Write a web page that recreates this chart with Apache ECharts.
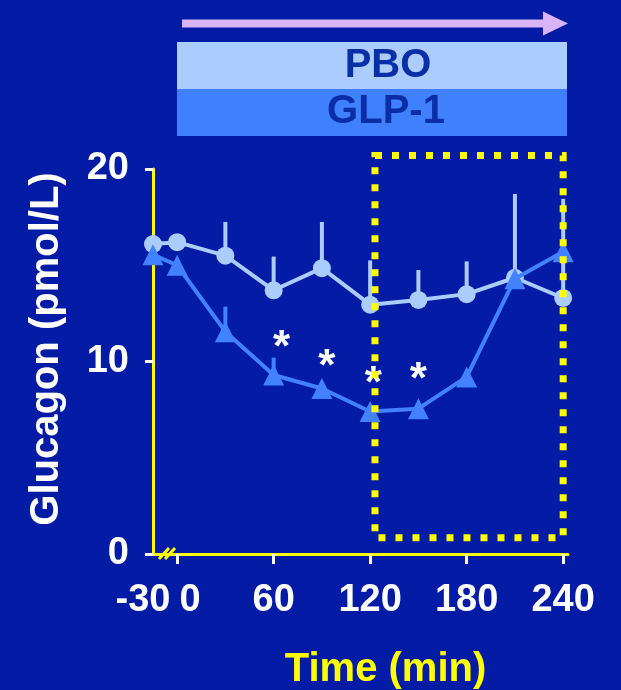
<!DOCTYPE html>
<html><head><meta charset="utf-8">
<script src="https://cdn.jsdelivr.net/npm/echarts@6/dist/echarts.min.js"></script>
<style>html,body{margin:0;padding:0;background:#031ba5;}#c{width:621px;height:690px;}</style>
</head><body><div id="c"></div>
<script>
// ---- data ----
const times = [-30, 0, 30, 60, 90, 120, 150, 180, 210, 240];
const pbo = [16.1, 16.2, 15.5, 13.7, 14.85, 12.95, 13.2, 13.5, 14.35, 13.3];
const pboUpper = [null, null, 17.25, 15.45, 17.25, 15.25, 14.75, 15.2, 18.7, 18.45];
const glp1 = [15.55, 15.0, 11.55, 9.3, 8.6, 7.4, 7.55, 9.2, 14.3, 15.7];
const glp1Upper = [null, null, 12.85, 10.2, null, null, null, null, null, null];
const starTimes = [65, 93, 122, 150];
const starY = [11.2, 10.2, 9.3, 9.5];
const xTickTimes = [-30, 0, 60, 120, 180, 240];
const xTickLabels = ['-30', '0', '60', '120', '180', '240'];
const yTicks = [0, 10, 20];
const seriesNames = ['PBO', 'GLP-1'];

// broken axis: the pre-infusion segment (-30..0) is drawn compressed
const pos = t => (t < 0 ? t / 2 : t);

const FONT = 'Liberation Sans, Arial, sans-serif';
const BG = '#031ba5';
const YELLOW = '#ffff00';
const C_PBO = '#aaccff';
const C_GLP = '#4282ff';

const chart = echarts.init(document.getElementById('c'));

function errSeries(vals, uppers, color) {
  const data = [];
  times.forEach((t, i) => { if (uppers[i] != null) data.push([pos(t), vals[i], uppers[i]]); });
  return {
    type: 'custom', data, z: 1, silent: true,
    encode: { x: 0, y: [1, 2] },
    renderItem: (params, api) => {
      const p0 = api.coord([api.value(0), api.value(1)]);
      const p1 = api.coord([api.value(0), api.value(2)]);
      return { type: 'line', shape: { x1: p0[0], y1: p0[1], x2: p1[0], y2: p1[1] },
        style: { stroke: color, lineWidth: 4 } };
    }
  };
}

const labelMap = {};
xTickTimes.forEach((t, i) => { labelMap[pos(t)] = xTickLabels[i]; });

chart.setOption({
  backgroundColor: BG,
  animation: false,
  textStyle: { fontFamily: FONT },
  grid: { left: 153, top: 169, width: 415, height: 385, containLabel: false, outerBoundsMode: 'none' },
  xAxis: {
    type: 'value', min: pos(-30), max: 243,
    name: 'Time (min)', nameLocation: 'middle', nameGap: 96,
    nameTextStyle: { color: YELLOW, fontSize: 40, fontWeight: 'bold', fontFamily: FONT, padding: [0, 0, 0, 50] },
    axisLine: { show: true, onZero: false, lineStyle: { color: YELLOW, width: 3 } },
    axisTick: { show: true, customValues: xTickTimes.filter(t => t >= 0).map(pos), length: 10,
      lineStyle: { color: '#ffffff', width: 3 } },
    axisLabel: {
      customValues: xTickTimes.map(pos), margin: 28, color: '#fff', fontSize: 38, fontWeight: 'bold', fontFamily: FONT,
      formatter: v => {
        const s = labelMap[v];
        if (s === '-30') return '{a|' + s + '}';
        if (s === '0') return '{b|' + s + '}';
        return s;
      },
      rich: {
        a: { color: '#fff', fontSize: 38, fontWeight: 'bold', fontFamily: FONT, padding: [0, 20, 0, 0] },
        b: { color: '#fff', fontSize: 38, fontWeight: 'bold', fontFamily: FONT, padding: [0, 0, 0, 26] }
      }
    },
    splitLine: { show: false }
  },
  yAxis: {
    type: 'value', min: yTicks[0], max: yTicks[yTicks.length - 1], interval: 10,
    name: 'Glucagon (pmol/L)', nameLocation: 'middle', nameGap: 86,
    nameTextStyle: { color: '#fff', fontSize: 40, fontWeight: 'bold', fontFamily: FONT, padding: [0, 0, 0, 25] },
    axisLine: { show: true, onZero: false, lineStyle: { color: YELLOW, width: 3 } },
    axisTick: { show: true, length: 8, lineStyle: { color: '#fff', width: 3 } },
    axisLabel: { margin: 24, color: '#fff', fontSize: 38, fontWeight: 'bold', fontFamily: FONT },
    splitLine: { show: false }
  },
  series: [
    errSeries(pbo, pboUpper, C_PBO),
    errSeries(glp1, glp1Upper, C_GLP),
    {
      name: seriesNames[0], type: 'line', z: 2,
      data: times.map((t, i) => [pos(t), pbo[i]]),
      symbol: 'circle', symbolSize: 18,
      lineStyle: { color: C_PBO, width: 4 }, itemStyle: { color: C_PBO }
    },
    {
      name: seriesNames[1], type: 'line', z: 3,
      data: times.map((t, i) => [pos(t), glp1[i]]),
      symbol: 'triangle', symbolSize: 21,
      lineStyle: { color: C_GLP, width: 4 }, itemStyle: { color: C_GLP }
    },
    {
      type: 'scatter', z: 4, silent: true,
      data: starTimes.map((t, i) => [pos(t), starY[i]]),
      symbolSize: 1, itemStyle: { color: 'rgba(0,0,0,0)' },
      label: { show: true, position: 'inside', formatter: '*', color: '#ffffff', fontSize: 44,
        fontWeight: 'bold', fontFamily: FONT, offset: [0, 10], textBorderWidth: 0, opacity: 1 },
      emphasis: { disabled: true }
    }
  ]
});

// annotations: treatment header, dotted highlight box, axis break mark
const tl = chart.convertToPixel({ gridIndex: 0 }, [pos(123), 20.7]);
const br = chart.convertToPixel({ gridIndex: 0 }, [pos(240), 0.85]);
chart.setOption({
  graphic: [
    { type: 'rect', shape: { x: 182, y: 19.5, width: 364, height: 8 }, style: { fill: '#dab4f8' } },
    { type: 'polygon', shape: { points: [[543, 11.5], [568, 23.5], [543, 35.5]] }, style: { fill: '#dab4f8' } },
    { type: 'rect', shape: { x: 177, y: 42, width: 390, height: 47 }, style: { fill: C_PBO } },
    { type: 'rect', shape: { x: 177, y: 89, width: 390, height: 47 }, style: { fill: '#4080fc' } },
    { type: 'text', x: 388, y: 66, style: { text: seriesNames[0], fill: '#0a2ea6', font: 'bold 40px ' + FONT,
      textAlign: 'center', textVerticalAlign: 'middle' } },
    { type: 'text', x: 386, y: 112, style: { text: seriesNames[1], fill: '#0a2ea6', font: 'bold 40px ' + FONT,
      textAlign: 'center', textVerticalAlign: 'middle' } },
    { type: 'rect', z: 10, shape: { x: tl[0], y: tl[1], width: br[0] - tl[0], height: br[1] - tl[1] },
      style: { fill: 'none', stroke: YELLOW, lineWidth: 7, lineDash: [7, 10] } },
    { type: 'line', z: 10, shape: { x1: 159, y1: 559, x2: 169, y2: 548 }, style: { stroke: YELLOW, lineWidth: 3 } },
    { type: 'line', z: 10, shape: { x1: 165, y1: 559, x2: 175, y2: 548 }, style: { stroke: YELLOW, lineWidth: 3 } }
  ]
});
</script></body></html>
